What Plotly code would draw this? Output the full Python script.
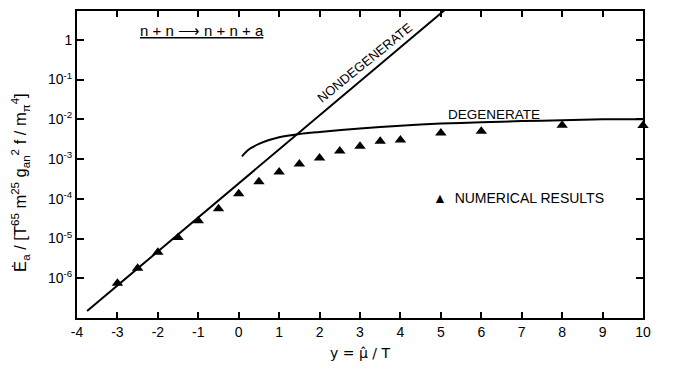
import plotly.graph_objects as go

# Numerical results (triangles)
num_x = [-3, -2.5, -2, -1.5, -1, -0.5, 0, 0.5, 1, 1.5, 2, 2.5, 3, 3.5, 4, 5, 6, 8, 10]
num_y = [7.5e-7, 1.78e-6, 4.5e-6, 1.06e-5, 2.8e-5, 5.6e-5, 1.33e-4, 2.7e-4, 4.7e-4,
         7.5e-4, 1.06e-3, 1.6e-3, 2.1e-3, 2.8e-3, 3.0e-3, 4.5e-3, 5.0e-3, 7.1e-3, 7.0e-3]

# Nondegenerate limit (straight line on log scale), endpoints
nondeg_x = [-3.75, 5.3]
nondeg_y = [1.5e-7, 8.4]

# Degenerate limit
deg_x = [0.08, 0.25, 0.5, 0.75, 1.0, 1.5, 2.0, 3.0, 4.0, 5.0, 6.0, 7.0, 8.0, 9.0, 10.0]
deg_y = [1.17e-3, 1.74e-3, 2.4e-3, 3.0e-3, 3.55e-3, 4.27e-3, 4.8e-3, 5.9e-3, 6.9e-3,
         7.8e-3, 8.4e-3, 9.0e-3, 9.5e-3, 1.0e-2, 1.0e-2]

x_ticks = [-4, -3, -2, -1, 0, 1, 2, 3, 4, 5, 6, 7, 8, 9, 10]
x_ticktext = ["-4", "-3", "-2", "-1", "0", "1", "2", "3", "4", "5", "6", "7", "8", "9", "10"]
y_ticks = [1e-6, 1e-5, 1e-4, 1e-3, 1e-2, 1e-1, 1]
y_ticktext = ["10<sup>-6</sup>", "10<sup>-5</sup>", "10<sup>-4</sup>", "10<sup>-3</sup>",
              "10<sup>-2</sup>", "10<sup>-1</sup>", "1"]

FONT = "Liberation Sans, Arial, sans-serif"

# plot area on screen (page body has an 8px offset)
PL, PR, PT, PB = 77, 643, 9, 318


def px(x):
    return (x - PL) / (PR - PL)


def py(y):
    return (PB - y) / (PB - PT)


fig = go.Figure()
fig.add_trace(go.Scatter(x=nondeg_x, y=nondeg_y, mode="lines",
                         line=dict(color="black", width=2), showlegend=False))
fig.add_trace(go.Scatter(x=deg_x, y=deg_y, mode="lines",
                         line=dict(color="black", width=2, shape="spline", smoothing=0.8),
                         showlegend=False))
fig.add_trace(go.Scatter(x=num_x, y=num_y, mode="markers",
                         marker=dict(symbol="triangle-up", size=10, color="black"),
                         showlegend=False, cliponaxis=False))

axis_common = dict(showline=True, linecolor="black", linewidth=2, mirror="ticks",
                   ticks="inside", tickcolor="black", tickwidth=1.5,
                   showgrid=False, zeroline=False,
                   tickfont=dict(family=FONT, size=14, color="black"))

fig.update_xaxes(range=[-4, 10], tickvals=x_ticks, ticktext=x_ticktext, ticklen=6,
                 title=dict(text="y = μ̂ / T", font=dict(family="DejaVu Sans", size=14, color="black"),
                            standoff=9),
                 **axis_common)
fig.update_yaxes(type="log", range=[-7, 0.725], tickvals=y_ticks, ticktext=y_ticktext,
                 ticklen=7, **axis_common)

fig.update_layout(
    width=673, height=373,
    margin=dict(l=69, r=38, t=1, b=63),
    paper_bgcolor="white", plot_bgcolor="white",
    annotations=[
        dict(text="Ė<sub>a</sub> / [T<sup>65</sup> m<sup>25</sup> g<sub>an</sub><sup>2</sup> f / m<sub>π</sub><sup>4</sup>]",
             xref="paper", yref="paper", x=px(20), y=py(182), textangle=-90, showarrow=False,
             font=dict(family=FONT, size=16.5, color="black"), xanchor="center", yanchor="middle"),
        dict(text="<u>n + n ⟶ n + n + a</u>", xref="paper", yref="paper",
             x=px(202), y=py(29), showarrow=False,
             font=dict(family=FONT, size=15, color="black"), xanchor="center", yanchor="middle"),
        dict(text="NONDEGENERATE", xref="paper", yref="paper",
             x=px(365), y=py(61), textangle=-39, showarrow=False,
             font=dict(family=FONT, size=13, color="black"), xanchor="center", yanchor="middle"),
        dict(text="DEGENERATE", xref="paper", yref="paper",
             x=px(494), y=py(113), showarrow=False,
             font=dict(family=FONT, size=13.5, color="black"), xanchor="center", yanchor="middle"),
        dict(text="▲  NUMERICAL RESULTS", xref="paper", yref="paper",
             x=px(431), y=py(197), showarrow=False,
             font=dict(family=FONT, size=14, color="black"), xanchor="left", yanchor="middle"),
    ],
)

fig.write_html("out.html")
